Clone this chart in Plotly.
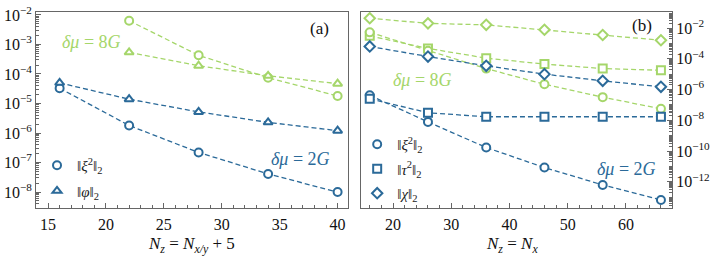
import plotly.graph_objects as go

# ---------------- data ----------------
# panel (a): N_z = N_{x/y} + 5
xa_green = [22, 28, 34, 40]
xa_blue = [16, 22, 28, 34, 40]
a_green_xi = [6.4e-3, 4.3e-4, 7.5e-5, 1.8e-5]
a_green_phi = [5.4e-4, 1.9e-4, 8.7e-5, 4.7e-5]
a_blue_xi = [3.3e-5, 1.8e-6, 2.2e-7, 4.1e-8, 1.0e-8]
a_blue_phi = [5.0e-5, 1.4e-5, 5.2e-6, 2.3e-6, 1.2e-6]

# panel (b): N_z = N_x
xb = [16, 26, 36, 46, 56, 66]
b_green_chi = [4.3e-2, 2.0e-2, 1.6e-2, 7.7e-3, 3.5e-3, 1.6e-3]
b_green_tau = [3.1e-3, 4.7e-4, 1.1e-4, 4.5e-5, 2.3e-5, 1.8e-5]
b_green_xi = [5.2e-3, 3.3e-4, 2.3e-5, 2.2e-6, 3.2e-7, 5.6e-8]
b_blue_chi = [6.3e-4, 1.4e-4, 3.5e-5, 1.0e-5, 3.7e-6, 1.5e-6]
b_blue_tau = [2.5e-7, 3.1e-8, 1.7e-8, 1.7e-8, 1.7e-8, 1.7e-8]
b_blue_xi = [4.2e-7, 7.9e-9, 1.7e-10, 8.5e-12, 6.3e-13, 6.6e-14]

xticks_a = [15, 20, 25, 30, 35, 40]
xticks_b = [20, 30, 40, 50, 60]
yexp_a = [-2, -3, -4, -5, -6, -7, -8]
yexp_b = [-2, -4, -6, -8, -10, -12]
minor_digits = [1, 2, 3, 4, 5, 6, 7, 8, 9]
decades = list(range(-15, 0))
minor_log_ticks = [d * 10.0 ** e for e in decades for d in minor_digits]

GREEN = "#a5d66a"
BLUE = "#2b6a99"
FONT = "Liberation Serif"
AX = "#666"

XI = "‖<i>ξ</i><sup>2</sup>‖<sub>2</sub>"
PHI = "‖<i>φ</i>‖<sub>2</sub>"
TAU = "‖<i>τ</i><sup>2</sup>‖<sub>2</sub>"
CHI = "‖<i>χ</i>‖<sub>2</sub>"

fig = go.Figure()


def add_series(x, y, color, symbol, xa, ya, name=None, legend=None):
    fig.add_trace(go.Scatter(
        x=x, y=y, mode="lines", xaxis=xa, yaxis=ya, showlegend=False,
        line=dict(color=color, width=1.3, dash="5px,3px"), hoverinfo="skip"))
    fig.add_trace(go.Scatter(
        x=x, y=y, mode="markers", xaxis=xa, yaxis=ya,
        name=name if name else "", showlegend=name is not None,
        legend=legend if legend else "legend",
        legendgroup=(name or "") + (legend or ""),
        marker=dict(symbol=symbol, size=8, color="white",
                    line=dict(color=color, width=2))))


# panel a
add_series(xa_green, a_green_xi, GREEN, "circle", "x", "y")
add_series(xa_green, a_green_phi, GREEN, "triangle-up", "x", "y")
add_series(xa_blue, a_blue_xi, BLUE, "circle", "x", "y", XI, "legend")
add_series(xa_blue, a_blue_phi, BLUE, "triangle-up", "x", "y", PHI, "legend")

# panel b
add_series(xb, b_green_chi, GREEN, "diamond", "x2", "y2")
add_series(xb, b_green_tau, GREEN, "square", "x2", "y2")
add_series(xb, b_green_xi, GREEN, "circle", "x2", "y2")
add_series(xb, b_blue_xi, BLUE, "circle", "x2", "y2", XI, "legend2")
add_series(xb, b_blue_tau, BLUE, "square", "x2", "y2", TAU, "legend2")
add_series(xb, b_blue_chi, BLUE, "diamond", "x2", "y2", CHI, "legend2")

axis_common = dict(showgrid=False, zeroline=False, showline=True, linecolor=AX,
                   linewidth=1, mirror=True, ticks="inside", ticklen=5,
                   tickcolor=AX, automargin=False,
                   tickfont=dict(family=FONT, size=16, color="#111"))
log_minor = dict(ticks="inside", tickmode="array", tickvals=minor_log_ticks,
                 ticklen=3, tickcolor=AX)


def log_ticks(exps):
    return dict(tickmode="array", tickvals=[10.0 ** e for e in exps],
                ticktext=["10<sup>\u2212%d</sup>" % (-e) for e in exps])


def note(text, x, y, color, size=18, xanchor="left"):
    return dict(text=text, x=x, y=y, xref="paper", yref="paper", showarrow=False,
                xanchor=xanchor, yanchor="middle",
                font=dict(family=FONT, size=size, color=color))


fig.update_layout(
    template="none",
    width=715, height=257,
    margin=dict(l=36, r=43, t=12, b=49),
    paper_bgcolor="white", plot_bgcolor="white",
    font=dict(family=FONT, color="#111"),
    xaxis=dict(domain=[0, 0.4906], range=[13.96, 40.9], tickvals=xticks_a,
               minor=dict(ticks="inside", dtick=1, ticklen=3, tickcolor=AX),
               ticklabelstandoff=2, **axis_common),
    yaxis=dict(type="log", range=[-8.54, -1.9], minor=log_minor,
               anchor="x", **log_ticks(yexp_a), **axis_common),
    xaxis2=dict(domain=[0.511, 1.0], range=[14.5, 67.9], tickvals=xticks_b,
                minor=dict(ticks="inside", dtick=2, ticklen=3, tickcolor=AX),
                ticklabelstandoff=2, anchor="y2", **axis_common),
    yaxis2=dict(type="log", range=[-13.7, -0.96], side="right", minor=log_minor,
                anchor="x2", **log_ticks(yexp_b), **axis_common),
    legend=dict(x=0.0016, y=0.005, xanchor="left", yanchor="bottom",
                bgcolor="rgba(0,0,0,0)", font=dict(family=FONT, size=15, color="#222"),
                tracegroupgap=3, itemwidth=30),
    legend2=dict(x=0.505, y=-0.01, xanchor="left", yanchor="bottom",
                 bgcolor="rgba(0,0,0,0)", font=dict(family=FONT, size=15, color="#222"),
                 tracegroupgap=2, itemwidth=30),
    annotations=[
        note("(a)", 0.4465, 0.918, "#111", 17, "center"),
        note("(b)", 0.953, 0.929, "#111", 17, "center"),
        note("<i>δμ</i> = 8<i>G</i>", 0.038, 0.847, GREEN),
        note("<i>δμ</i> = 2<i>G</i>", 0.366, 0.25, BLUE),
        note("<i>δμ</i> = 8<i>G</i>", 0.558, 0.653, GREEN),
        note("<i>δμ</i> = 2<i>G</i>", 0.879, 0.199, BLUE),
        note("<i>N<sub>z</sub></i> = <i>N<sub>x/y</sub></i> + 5", 0.244, -0.19, "#111",
             17, "center"),
        note("<i>N<sub>z</sub></i> = <i>N<sub>x</sub></i>", 0.749, -0.19, "#111",
             17, "center"),
    ],
)

fig.write_html("out.html", config={"displayModeBar": False},
               post_script="document.body.style.margin='0px';")
